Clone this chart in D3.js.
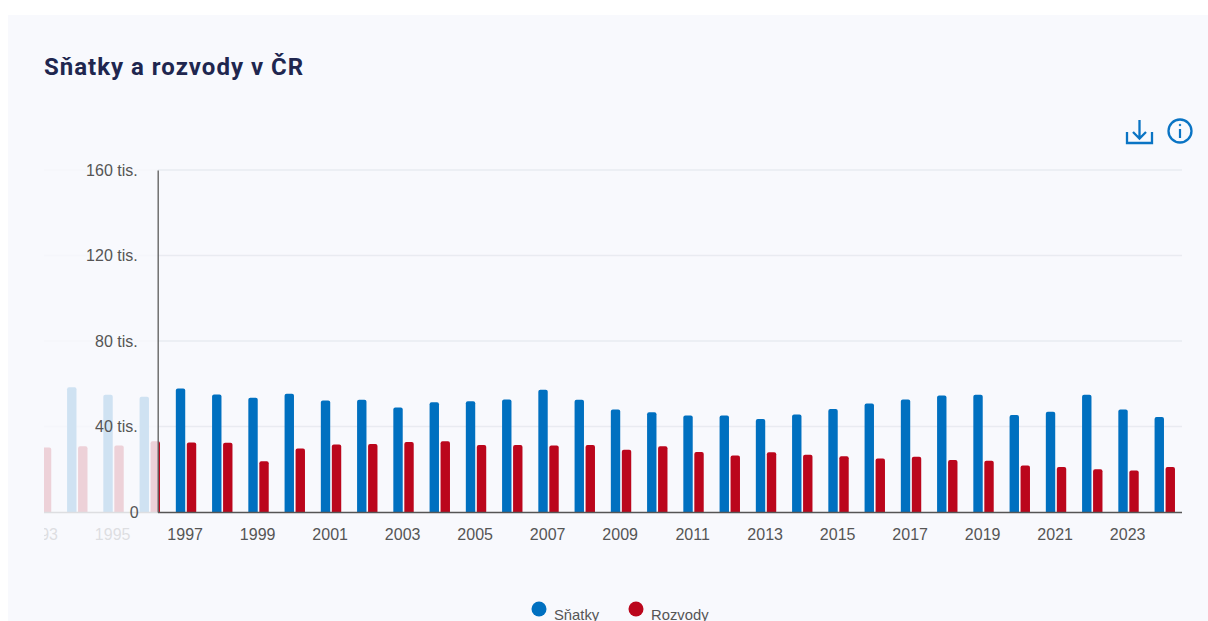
<!DOCTYPE html>
<html><head><meta charset="utf-8">
<script src="https://cdn.jsdelivr.net/npm/d3@7"></script>
<style>
html,body{margin:0;padding:0;background:#fff;overflow:hidden}
svg{display:block}
text{font-family:"Liberation Sans",Arial,sans-serif}
</style></head><body><div id="chart"></div>
<script>
const title = "Sňatky a rozvody v ČR";
const years = d3.range(1993, 2025);
const marriages = [54.9,58.4,54.9,53.9,57.8,55.0,53.5,55.3,52.2,52.5,48.9,51.4,51.8,52.6,57.2,52.5,47.9,46.7,45.1,45.2,43.5,45.6,48.2,50.8,52.6,54.5,54.9,45.4,46.9,54.9,47.9,44.5];
const divorces = [30.2,30.8,31.1,33.1,32.5,32.4,23.7,29.7,31.6,31.8,32.8,33.1,31.3,31.4,31.1,31.3,29.1,30.8,28.1,26.4,27.9,26.8,26.1,25.0,25.8,24.3,24.0,21.7,21.1,20.0,19.4,21.0];
const yTicks = [0,40,80,120,160];
const xTicks = years.filter(y => y % 2 === 1);
const seriesNames = ["Sňatky","Rozvody"];
const seriesColors = ["#0070c0","#bb061c"];

const W=1208,H=621;
const svg=d3.select("#chart").append("svg").attr("width",W).attr("height",H);
svg.append("rect").attr("x",8).attr("y",15).attr("width",W-8).attr("height",H-15).attr("fill","#f8f9fd");
svg.append("text").attr("x",44).attr("y",75).attr("fill","#20264f")
  .style("font-family","Roboto").style("font-weight",700).style("font-size","24px").style("letter-spacing","1px").text(title);

const y=d3.scaleLinear().domain([0,160]).range([512,170]);
const x=d3.scaleBand().domain(years).range([22.7,1182.7]);
const inner=d3.scaleBand().domain([0,1]).range([0,22]);
const defs=svg.append("defs");
defs.append("clipPath").attr("id","cMain").append("rect").attr("x",158).attr("y",150).attr("width",1024).attr("height",420);
defs.append("clipPath").attr("id","cFade").append("rect").attr("x",44).attr("y",150).attr("width",114).attr("height",420);

function drawPlot(g){
  g.append("g").selectAll("line").data(yTicks.slice(1)).join("line")
    .attr("x1",22).attr("x2",1183).attr("y1",d=>y(d)).attr("y2",d=>y(d))
    .attr("stroke","#e9ebf1").attr("stroke-width",1.4);
  [marriages,divorces].forEach((vals,si)=>{
    g.append("g").attr("fill",seriesColors[si]).selectAll("path").data(vals).join("path")
      .attr("d",(v,i)=>{
        const cx=x(years[i])+x.bandwidth()/2;
        const l=cx-10+inner(si), w=9.4, t=y(v), b=y(0), r=2;
        return `M${l},${b}V${t+r}Q${l},${t} ${l+r},${t}H${l+w-r}Q${l+w},${t} ${l+w},${t+r}V${b}Z`;
      });
  });
  const ax=g.append("g").attr("transform","translate(0,512)")
    .call(d3.axisBottom(x).tickValues(xTicks).tickSize(0).tickPadding(17).tickFormat(d3.format("d")));
  ax.select(".domain").attr("stroke","#555").attr("stroke-width",1.3);
  ax.selectAll("text").attr("font-size",16).attr("dx",-0.7).attr("fill","#555").style("font-family",'"Liberation Sans",Arial,sans-serif');
}
drawPlot(svg.append("g").attr("clip-path","url(#cFade)").append("g").attr("opacity",.16));
drawPlot(svg.append("g").attr("clip-path","url(#cMain)").append("g"));

const ay=svg.append("g").attr("transform","translate(157.7,0)")
  .call(d3.axisLeft(y).tickValues(yTicks).tickSize(0).tickPadding(19).tickFormat(d=>d===0?"0":d+" tis."));
ay.select(".domain").attr("stroke","#666").attr("stroke-width",1.4);
ay.selectAll("text").attr("font-size",16).attr("fill","#555").style("font-family",'"Liberation Sans",Arial,sans-serif');
ay.selectAll("text").filter(d=>d!==0).attr("dx",-1);

const legendX=[539,636], legendTextX=[554,651];
seriesNames.forEach((n,i)=>{
  svg.append("circle").attr("cx",legendX[i]).attr("cy",609).attr("r",7.5).attr("fill",seriesColors[i]);
  svg.append("text").attr("x",legendTextX[i]).attr("y",620).attr("font-size",14.8).attr("fill","#555").text(n);
});

const ic=svg.append("g").attr("fill","none").attr("stroke","#0a74c4").attr("stroke-width",2.3);
ic.append("path").attr("d","M1127 132V143H1152V132");
ic.append("path").attr("d","M1139.5 120V138M1133 132L1139.5 138.5L1146 132");
ic.append("circle").attr("cx",1180).attr("cy",131).attr("r",11.5);
ic.append("path").attr("d","M1180 129V138").attr("stroke-width",2.2);
ic.append("circle").attr("cx",1180).attr("cy",125).attr("r",.8).attr("fill","#0a74c4").attr("stroke-width",1);
</script></body></html>
